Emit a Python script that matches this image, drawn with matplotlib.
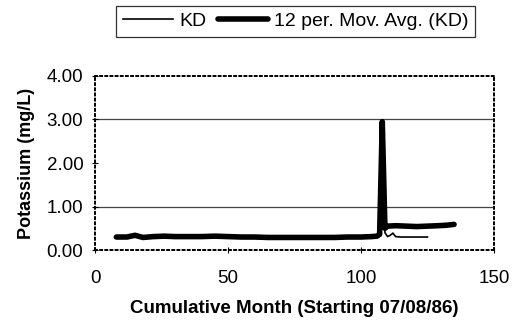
import matplotlib.pyplot as plt

# data
kd_month = [8, 12, 15, 18, 22, 26, 30, 35, 40, 45, 50, 55, 60, 65, 70, 75, 80, 85, 90, 95,
            100, 104, 106, 107, 108, 109, 110, 111, 112, 113, 115, 118, 121, 125]
kd_val = [0.29, 0.30, 0.34, 0.29, 0.31, 0.32, 0.30, 0.31, 0.30, 0.31, 0.30, 0.29, 0.30, 0.29,
          0.28, 0.28, 0.29, 0.28, 0.29, 0.30, 0.30, 0.31, 0.32, 0.40, 2.95, 0.40, 0.31, 0.34,
          0.39, 0.31, 0.30, 0.30, 0.30, 0.30]

ma_month = [8, 12, 15, 18, 22, 26, 30, 35, 40, 45, 50, 55, 60, 65, 70, 75, 80, 85, 90, 95,
            100, 104, 106, 107, 108, 109, 110, 113, 117, 121, 125, 129, 132, 135]
ma_val = [0.30, 0.30, 0.34, 0.29, 0.31, 0.32, 0.31, 0.31, 0.31, 0.32, 0.31, 0.30, 0.30, 0.29,
          0.29, 0.29, 0.29, 0.29, 0.29, 0.30, 0.30, 0.31, 0.32, 0.36, 2.95, 0.50, 0.55, 0.56,
          0.55, 0.54, 0.55, 0.56, 0.57, 0.59]

yticks = [0, 1, 2, 3, 4]
ytick_labels = ['0.00', '1.00', '2.00', '3.00', '4.00']
xticks = [0, 50, 100, 150]

plt.rcParams['font.family'] = ['Liberation Sans', 'DejaVu Sans']

fig = plt.figure(figsize=(5.14, 3.33), dpi=100)
ax = fig.add_axes([0.185, 0.249, 0.776, 0.523])

for g in [1, 3]:
    ax.axhline(g, color='#444444', lw=0.9, zorder=0)

ax.plot(kd_month, kd_val, color='black', lw=1.2, label='KD', zorder=3)
ax.plot(ma_month, ma_val, color='black', lw=4, label='12 per. Mov. Avg. (KD)',
        solid_capstyle='round', zorder=2)

ax.set_xlim(0, 150)
ax.set_ylim(0, 4)
ax.set_xticks(xticks)
ax.set_yticks(yticks)
ax.set_yticklabels(ytick_labels)
ax.tick_params(direction='inout', length=5, width=0.8, labelsize=13.5, pad=6)
ax.tick_params(axis='x', pad=12)

for s in ax.spines.values():
    s.set_linestyle(':')
    s.set_linewidth(1.4)

ax.set_xlabel('Cumulative Month (Starting 07/08/86)', fontsize=13.5, fontweight='bold', labelpad=9)
ax.set_ylabel('Potassium (mg/L)', fontsize=13, fontweight='bold', labelpad=8)

leg = fig.legend(loc='upper center', bbox_to_anchor=(0.575, 1.012), ncol=2, fontsize=14,
                 frameon=True, fancybox=False, edgecolor='black', handlelength=2.6,
                 handletextpad=0.3, columnspacing=0.6, borderpad=0.35)
leg.get_frame().set_linewidth(0.9)

fig.savefig('out.png', dpi=100)
